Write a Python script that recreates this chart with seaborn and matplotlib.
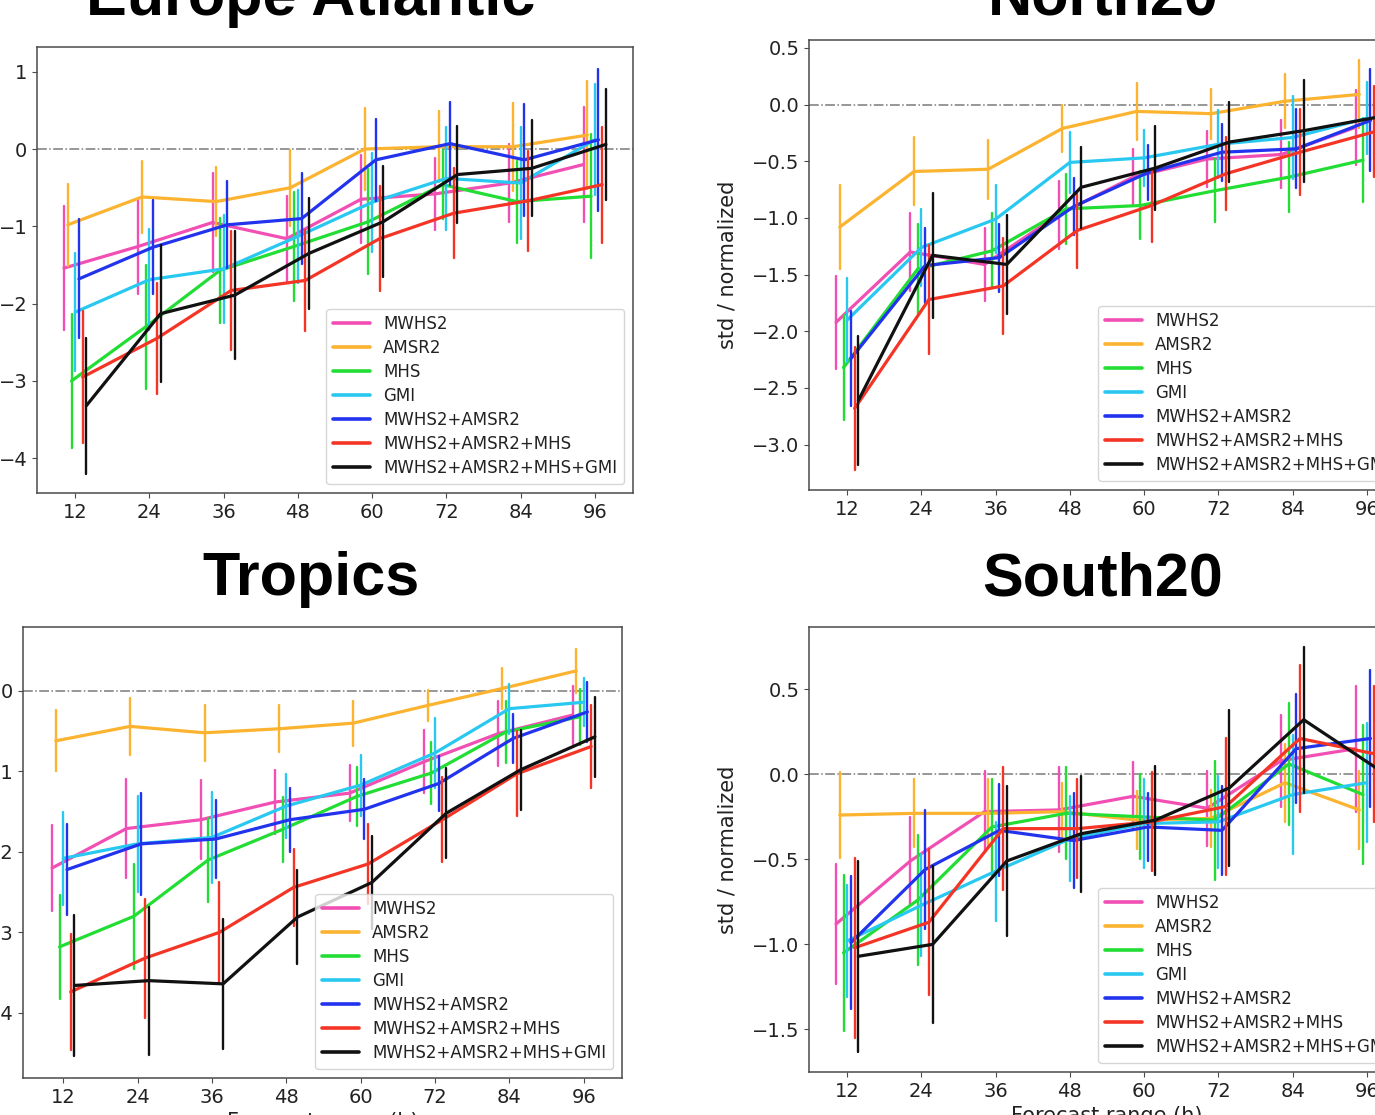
import numpy as np
import pandas as pd
import matplotlib
matplotlib.use("Agg")
import matplotlib.pyplot as plt
import seaborn as sns

# ---------------- data ----------------
hours = [12, 24, 36, 48, 60, 72, 84, 96]
series = ["MWHS2", "AMSR2", "MHS", "GMI", "MWHS2+AMSR2",
          "MWHS2+AMSR2+MHS", "MWHS2+AMSR2+MHS+GMI"]
colors = ["#f24fb4", "#fbb330", "#22dd33", "#28c8f0", "#2233ee",
          "#f43525", "#111111"]
offsets = [-1.8, -1.2, -0.6, 0.0, 0.6, 1.2, 1.8]

# Europe Atlantic
ea_mean = {
    "MWHS2": [-1.54, -1.26, -0.95, -1.16, -0.65, -0.58, -0.44, -0.20],
    "AMSR2": [-0.98, -0.62, -0.68, -0.50, 0.00, 0.03, 0.03, 0.18],
    "MHS": [-3.00, -2.30, -1.57, -1.26, -0.94, -0.46, -0.68, -0.61],
    "GMI": [-2.11, -1.69, -1.55, -1.13, -0.69, -0.38, -0.44, 0.12],
    "MWHS2+AMSR2": [-1.68, -1.27, -0.98, -0.90, -0.14, 0.07, -0.14, 0.12],
    "MWHS2+AMSR2+MHS": [-2.95, -2.45, -1.83, -1.70, -1.16, -0.83, -0.67, -0.46],
    "MWHS2+AMSR2+MHS+GMI": [-3.32, -2.13, -1.89, -1.35, -0.94, -0.33, -0.25, 0.06],
}
ea_err = {
    "MWHS2": [0.80, 0.62, 0.64, 0.55, 0.57, 0.47, 0.50, 0.74],
    "AMSR2": [0.53, 0.46, 0.45, 0.49, 0.53, 0.46, 0.57, 0.70],
    "MHS": [0.87, 0.80, 0.68, 0.70, 0.68, 0.45, 0.53, 0.80],
    "GMI": [0.76, 0.65, 0.70, 0.60, 0.64, 0.67, 0.72, 0.72],
    "MWHS2+AMSR2": [0.77, 0.61, 0.56, 0.59, 0.53, 0.54, 0.72, 0.92],
    "MWHS2+AMSR2+MHS": [0.85, 0.72, 0.77, 0.65, 0.68, 0.58, 0.65, 0.75],
    "MWHS2+AMSR2+MHS+GMI": [0.88, 0.89, 0.83, 0.72, 0.72, 0.63, 0.62, 0.72],
}

# North20
n20_mean = {
    "MWHS2": [-1.92, -1.30, -1.41, -0.97, -0.64, -0.48, -0.44, -0.20],
    "AMSR2": [-1.08, -0.59, -0.57, -0.21, -0.06, -0.08, 0.03, 0.09],
    "MHS": [-2.32, -1.45, -1.29, -0.92, -0.89, -0.76, -0.64, -0.49],
    "GMI": [-1.90, -1.26, -1.01, -0.51, -0.47, -0.35, -0.29, -0.12],
    "MWHS2+AMSR2": [-2.24, -1.42, -1.35, -0.90, -0.60, -0.42, -0.39, -0.14],
    "MWHS2+AMSR2+MHS": [-2.68, -1.72, -1.60, -1.11, -0.89, -0.61, -0.42, -0.24],
    "MWHS2+AMSR2+MHS+GMI": [-2.61, -1.33, -1.41, -0.73, -0.56, -0.33, -0.23, -0.11],
}
n20_err = {
    "MWHS2": [0.41, 0.34, 0.32, 0.30, 0.25, 0.25, 0.30, 0.33],
    "AMSR2": [0.37, 0.30, 0.26, 0.21, 0.25, 0.22, 0.24, 0.30],
    "MHS": [0.46, 0.40, 0.33, 0.31, 0.30, 0.28, 0.31, 0.37],
    "GMI": [0.37, 0.34, 0.30, 0.27, 0.25, 0.30, 0.37, 0.32],
    "MWHS2+AMSR2": [0.42, 0.33, 0.30, 0.25, 0.24, 0.25, 0.35, 0.45],
    "MWHS2+AMSR2+MHS": [0.54, 0.48, 0.42, 0.33, 0.32, 0.32, 0.38, 0.40],
    "MWHS2+AMSR2+MHS+GMI": [0.57, 0.55, 0.44, 0.36, 0.37, 0.35, 0.45, 0.45],
}

# Tropics
tr_mean = {
    "MWHS2": [-2.20, -1.71, -1.60, -1.38, -1.27, -0.88, -0.53, -0.30],
    "AMSR2": [-0.62, -0.44, -0.52, -0.47, -0.40, -0.18, 0.03, 0.25],
    "MHS": [-3.18, -2.80, -2.10, -1.72, -1.31, -1.02, -0.51, -0.32],
    "GMI": [-2.08, -1.90, -1.82, -1.43, -1.17, -0.77, -0.22, -0.14],
    "MWHS2+AMSR2": [-2.22, -1.90, -1.84, -1.60, -1.47, -1.15, -0.59, -0.26],
    "MWHS2+AMSR2+MHS": [-3.74, -3.32, -3.00, -2.44, -2.15, -1.60, -1.03, -0.69],
    "MWHS2+AMSR2+MHS+GMI": [-3.66, -3.60, -3.64, -2.81, -2.38, -1.52, -0.98, -0.57],
}
tr_err = {
    "MWHS2": [0.54, 0.61, 0.49, 0.40, 0.35, 0.39, 0.40, 0.36],
    "AMSR2": [0.38, 0.35, 0.35, 0.29, 0.28, 0.19, 0.25, 0.27],
    "MHS": [0.65, 0.65, 0.52, 0.40, 0.37, 0.38, 0.39, 0.35],
    "GMI": [0.58, 0.60, 0.57, 0.40, 0.38, 0.43, 0.31, 0.30],
    "MWHS2+AMSR2": [0.57, 0.63, 0.49, 0.40, 0.37, 0.34, 0.30, 0.37],
    "MWHS2+AMSR2+MHS": [0.72, 0.74, 0.62, 0.48, 0.50, 0.53, 0.53, 0.51],
    "MWHS2+AMSR2+MHS+GMI": [0.88, 0.92, 0.81, 0.58, 0.58, 0.56, 0.50, 0.50],
}

# South20
s20_mean = {
    "MWHS2": [-0.88, -0.51, -0.22, -0.21, -0.13, -0.20, 0.08, 0.15],
    "AMSR2": [-0.24, -0.23, -0.23, -0.22, -0.27, -0.26, -0.05, -0.21],
    "MHS": [-1.05, -0.74, -0.31, -0.23, -0.25, -0.27, 0.06, -0.12],
    "GMI": [-0.98, -0.77, -0.57, -0.38, -0.29, -0.28, -0.12, -0.05],
    "MWHS2+AMSR2": [-0.99, -0.56, -0.33, -0.39, -0.31, -0.33, 0.15, 0.21],
    "MWHS2+AMSR2+MHS": [-1.02, -0.87, -0.32, -0.32, -0.28, -0.19, 0.21, 0.12],
    "MWHS2+AMSR2+MHS+GMI": [-1.07, -1.00, -0.51, -0.35, -0.27, -0.08, 0.32, 0.03],
}
s20_err = {
    "MWHS2": [0.35, 0.26, 0.24, 0.25, 0.20, 0.22, 0.27, 0.37],
    "AMSR2": [0.25, 0.20, 0.20, 0.17, 0.17, 0.17, 0.23, 0.23],
    "MHS": [0.46, 0.38, 0.28, 0.27, 0.25, 0.35, 0.36, 0.41],
    "GMI": [0.33, 0.30, 0.29, 0.25, 0.26, 0.27, 0.35, 0.35],
    "MWHS2+AMSR2": [0.39, 0.35, 0.27, 0.28, 0.20, 0.26, 0.32, 0.40],
    "MWHS2+AMSR2+MHS": [0.53, 0.43, 0.36, 0.29, 0.29, 0.40, 0.43, 0.40],
    "MWHS2+AMSR2+MHS+GMI": [0.56, 0.46, 0.44, 0.34, 0.32, 0.46, 0.43, 0.40],
}

titles = ["Europe Atlantic", "North20", "Tropics", "South20"]
ylabel = "std / normalized"
xlabel = "Forecast range (h)"

# ---------------- style ----------------
sns.set_style("ticks")
plt.rcParams["font.family"] = ["DejaVu Sans"]
plt.rcParams["axes.edgecolor"] = "#4a4a4a"
plt.rcParams["axes.linewidth"] = 1.1
plt.rcParams["xtick.color"] = "#4a4a4a"
plt.rcParams["ytick.color"] = "#4a4a4a"
plt.rcParams["xtick.labelcolor"] = "#222222"
plt.rcParams["ytick.labelcolor"] = "#222222"
plt.rcParams["xtick.major.size"] = 3.5
plt.rcParams["ytick.major.size"] = 3.5
plt.rcParams["axes.labelcolor"] = "#222222"

W, H = 1375, 1115
fig = plt.figure(figsize=(W / 100, H / 100), dpi=100)
palette = dict(zip(series, colors))


def frame(l, t, r, b):
    return fig.add_axes([l / W, 1 - b / H, (r - l) / W, (b - t) / H])


def long_table(mean, err):
    rows = []
    for s, off in zip(series, offsets):
        for h, m, e in zip(hours, mean[s], err[s]):
            rows.append((s, h + off, m - e))
            rows.append((s, h + off, m + e))
    return pd.DataFrame(rows, columns=["series", "x", "y"])


panels = [
    (ea_mean, ea_err, (37, 47, 633, 493), (5.82, 102.18), (-4.45, 1.32),
     [-4, -3, -2, -1, 0, 1], "{:d}", False),
    (n20_mean, n20_err, (809, 40, 1405, 490), (5.82, 102.18), (-3.40, 0.57),
     [-3.0, -2.5, -2.0, -1.5, -1.0, -0.5, 0.0, 0.5], "{:.1f}", False),
    (tr_mean, tr_err, (23, 627, 622, 1078), (5.5, 102.18), (-4.81, 0.795),
     [-4, -3, -2, -1, 0], "{:d}", True),
    (s20_mean, s20_err, (809, 627, 1405, 1072), (5.82, 102.18), (-1.75, 0.865),
     [-1.5, -1.0, -0.5, 0.0, 0.5], "{:.1f}", True),
]

for mean, err, box, xlim, ylim, yt, fmt, bottom in panels:
    ax = frame(*box)
    ax.axhline(0, color="#7a7a7a", ls="-.", lw=1.1, zorder=0)
    df = long_table(mean, err)
    sns.lineplot(data=df, x="x", y="y", hue="series", hue_order=series,
                 palette=palette, estimator="mean",
                 errorbar=lambda v: (v.min(), v.max()),
                 err_style="bars", err_kws={"linewidth": 1.7, "capsize": 0},
                 linewidth=2.3, ax=ax)
    ax.set_xlim(*xlim)
    ax.set_ylim(*ylim)
    ax.set_xticks(hours)
    ax.set_xticklabels([str(h) for h in hours])
    ax.set_yticks(yt)
    ax.set_yticklabels([fmt.format(int(v) if fmt == "{:d}" else v).replace("-", "\u2212") for v in yt])
    ax.tick_params(labelsize=14)
    ax.set_ylabel(ylabel, fontsize=15, labelpad=10.5)
    ax.set_xlabel(xlabel if bottom else "", fontsize=15)
    for sp in ax.spines.values():
        sp.set_visible(True)
    leg = ax.legend(loc="lower right", fontsize=12, frameon=True,
                    handlelength=2.2, borderaxespad=0.55, labelspacing=0.36)
    for ln in leg.get_lines():
        ln.set_linewidth(2.6)
    for txt in leg.get_texts():
        txt.set_color("#222222")

title_pos = [(311, 14.5), (1103, 14.5), (311, 595), (1103, 595)]
for t, (x, y) in zip(titles, title_pos):
    fig.text(x / W, 1 - y / H, t, ha="center", va="baseline", color="black",
             fontsize=44, fontweight="bold", family=["Liberation Sans", "DejaVu Sans"])

fig.savefig("out.png", dpi=100)
